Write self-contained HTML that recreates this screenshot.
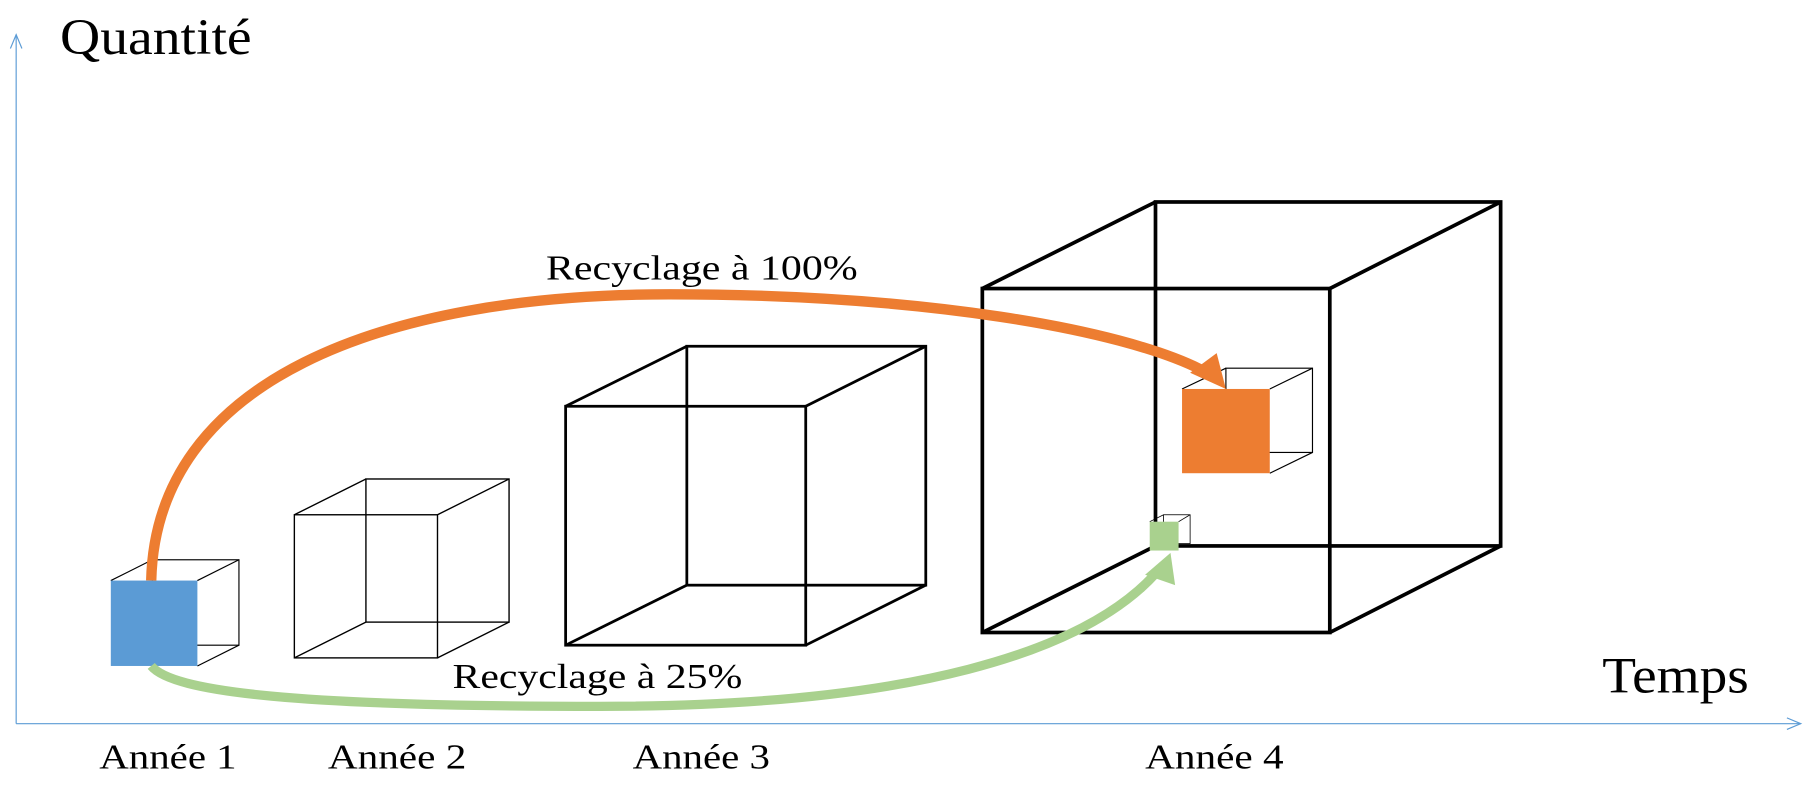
<!DOCTYPE html>
<html><head><meta charset="utf-8"><style>
html,body{margin:0;padding:0;background:#fff;}
svg{display:block;}
text{font-family:"Liberation Serif",serif;fill:#000;}
</style></head><body>
<svg width="1810" height="786" viewBox="0 0 1568 681" preserveAspectRatio="none">
<g stroke="#5b9bd5" stroke-width="1" fill="none">
<line x1="14" y1="627" x2="14" y2="30"/>
<polyline points="9,42 14,30 19,42"/>
<line x1="14" y1="627" x2="1560" y2="627"/>
<polyline points="1548,622 1560,627 1548,632"/>
</g>
<g stroke="#000" stroke-width="1.2" fill="none">
<rect x="317" y="415" width="124" height="124"/>
<rect x="255" y="446" width="124" height="124"/>
<line x1="255" y1="446" x2="317" y2="415"/><line x1="379" y1="446" x2="441" y2="415"/>
<line x1="255" y1="570" x2="317" y2="539"/><line x1="379" y1="570" x2="441" y2="539"/>
</g>
<g stroke="#000" stroke-width="2.4" fill="none">
<rect x="595" y="300" width="207" height="207"/>
<rect x="490" y="352" width="208" height="207"/>
<line x1="490" y1="352" x2="595" y2="300"/><line x1="698" y1="352" x2="802" y2="300"/>
<line x1="490" y1="559" x2="595" y2="507"/><line x1="698" y1="559" x2="802" y2="507"/>
</g>
<g stroke="#000" stroke-width="3.2" fill="none">
<rect x="1001" y="175" width="299" height="298"/>
<rect x="851" y="250" width="301" height="298"/>
<line x1="851" y1="250" x2="1001" y2="175"/><line x1="1152" y1="250" x2="1300" y2="175"/>
<line x1="851" y1="548" x2="1001" y2="473"/><line x1="1152" y1="548" x2="1300" y2="473"/>
</g>
<g stroke="#000" stroke-width="1" fill="none">
<rect x="132" y="485" width="75" height="74"/>
<line x1="96" y1="503" x2="132" y2="485"/><line x1="171" y1="503" x2="207" y2="485"/>
<line x1="171" y1="577" x2="207" y2="559"/>
</g>
<rect x="96" y="503" width="75" height="74" fill="#5b9bd5"/>
<g stroke="#000" stroke-width="1" fill="none">
<rect x="1062" y="319" width="75" height="73"/>
<line x1="1024" y1="337" x2="1062" y2="319"/><line x1="1100" y1="337" x2="1137" y2="319"/>
<line x1="1100" y1="410" x2="1137" y2="392"/>
</g>
<rect x="1024" y="337" width="76" height="73" fill="#ed7d31"/>
<g stroke="#000" stroke-width="0.7" fill="none">
<rect x="1008" y="446" width="23" height="25"/>
<line x1="996" y1="452" x2="1008" y2="446"/><line x1="1021" y1="452" x2="1031" y2="446"/>
</g>
<rect x="996" y="452" width="25" height="25" fill="#a9d18e"/>
<path d="M131,503 C 135,330 330,255 580,255 C 800,255 970,285 1040,320" stroke="#ed7d31" stroke-width="9" fill="none"/>
<polygon points="1062,337 1031,323 1054,306" fill="#ed7d31"/>
<path d="M131,577 C 150,600 260,612 520,612 C 790,612 940,565 1002,496" stroke="#a9d18e" stroke-width="8" fill="none"/>
<polygon points="1014,479 992,498 1018,507" fill="#a9d18e"/>
<text x="52" y="47" font-size="44" textLength="166" lengthAdjust="spacingAndGlyphs">Quantité</text>
<text x="1388" y="600" font-size="44" textLength="127" lengthAdjust="spacingAndGlyphs">Temps</text>
<text x="473" y="242" font-size="30" textLength="270" lengthAdjust="spacingAndGlyphs">Recyclage à 100%</text>
<text x="392" y="596" font-size="30" textLength="251" lengthAdjust="spacingAndGlyphs">Recyclage à 25%</text>
<text x="86" y="666" font-size="30" textLength="119" lengthAdjust="spacingAndGlyphs">Année 1</text>
<text x="284" y="666" font-size="30" textLength="120" lengthAdjust="spacingAndGlyphs">Année 2</text>
<text x="548" y="666" font-size="30" textLength="119" lengthAdjust="spacingAndGlyphs">Année 3</text>
<text x="992" y="666" font-size="30" textLength="120" lengthAdjust="spacingAndGlyphs">Année 4</text>
</svg>
</body></html>
